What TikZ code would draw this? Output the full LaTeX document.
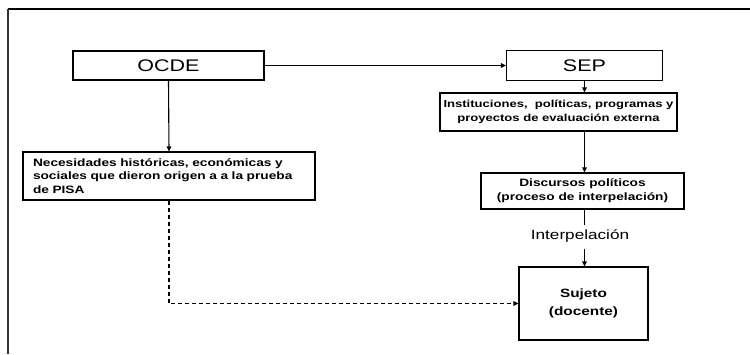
\documentclass[tikz,border=0pt]{standalone}
\usepackage{fontspec}
\setmainfont{Liberation Sans}[FakeStretch=1.28]
\usetikzlibrary{arrows.meta}
\tikzset{
  box/.style={draw=black, line width=1.1pt, inner sep=0pt, align=center},
  conn/.style={line width=1.1pt, -{Triangle[length=5pt,width=4.5pt]}},
  plain/.style={line width=1.1pt},
  dashconn/.style={line width=1.1pt, dash pattern=on 4pt off 3pt, -{Triangle[length=5pt,width=4.5pt]}},
  bigtxt/.style={font=\fontsize{16.8}{19}\selectfont},
  boldtxt/.style={font=\fontsize{10.7}{13.8}\selectfont\bfseries},
}
\begin{document}
\begin{tikzpicture}[x=1pt,y=-1pt]
\useasboundingbox (0,0) rectangle (750,354);
\fill[white] (0,0) rectangle (750,354);
% frame
\draw[line width=1.1pt] (7.5,9) -- (750,9);
\draw[line width=2pt, draw=black!80] (8,8.5) -- (8,354);
% nodes
\node[box, bigtxt, minimum width=191pt, minimum height=29pt] (ocde) at (168.5,65.5) {OCDE};
\node[box, bigtxt, minimum width=156pt, minimum height=30pt] (sep) at (584.5,65.5) {SEP};
\node[box, font=\fontsize{10.2}{13.5}\selectfont\bfseries, minimum width=237pt, minimum height=38pt] (inst) at (558.5,112) {Instituciones,\ \ políticas, programas y\\ proyectos de evaluación externa};
\node[box, boldtxt, minimum width=203pt, minimum height=36pt] (disc) at (582.5,191) {Discursos políticos\\ (proceso de interpelación)};
\node[inner sep=0pt, font=\fontsize{13.4}{16}\selectfont] (interp) at (580,236) {Interpelación};
\node[box, font=\fontsize{12}{18}\selectfont\bfseries, minimum width=129pt, minimum height=73pt] (suj) at (583.5,303.5) {Sujeto\\ (docente)};
\node[box, boldtxt, minimum height=48pt, text width=272pt, inner xsep=10pt, align=left] (nec) at (169,176) {Necesidades históricas, económicas y sociales que dieron origen a a la prueba de PISA};
% connectors
\draw[conn] (ocde.east) -- (sep.west);
\draw[conn] (ocde.south) -- (nec.north);
\draw[conn] (sep.south) -- (sep.south |- inst.north);
\draw[conn] (inst.south -| sep.south) -- (disc.north -| sep.south);
\draw[plain] (disc.south -| sep.south) -- ([yshift=4pt]interp.north -| sep.south);
\draw[conn] ([yshift=-6pt]interp.south -| sep.south) -- (suj.north -| sep.south);
\draw[dashconn] (nec.south) |- (suj.west);
\end{tikzpicture}
\end{document}
